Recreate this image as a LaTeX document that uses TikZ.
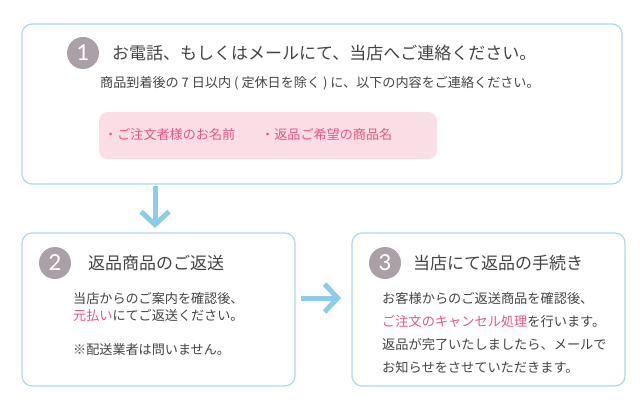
\documentclass[tikz,border=0pt]{standalone}
\usepackage{fontspec}
\setmainfont{Noto Sans CJK JP}
\newfontfamily\numfont{Lato}
\usetikzlibrary{arrows.meta}
\definecolor{boxblue}{RGB}{172,216,236}
\definecolor{arrowblue}{RGB}{140,204,232}
\definecolor{circgray}{RGB}{172,160,168}
\definecolor{pinkfill}{RGB}{250,222,230}
\definecolor{pinktext}{RGB}{228,88,130}
\definecolor{txtgray}{RGB}{68,68,68}
\begin{document}
\begin{tikzpicture}[x=1pt,y=-1pt,
  stepframe/.style={draw=boxblue,line width=1.2pt,rounded corners=10pt,fill=white},
  numcirc/.style={circle,fill=circgray,minimum size=32pt,inner sep=0pt,text=white,font=\numfont\fontsize{22}{22}\selectfont},
  titletxt/.style={anchor=west,inner sep=0pt,text=txtgray,font=\fontsize{17}{19}\selectfont},
  bodytxt/.style={anchor=north west,inner sep=0pt,text=txtgray,align=left},
  flowarrow/.style={draw=arrowblue,line width=5pt,-{Straight Barb[length=13pt,width=28pt]}}
]
\useasboundingbox (0,0) rectangle (640,406);
% boxes
\path[stepframe] (22,24) rectangle (622,184);
\path[stepframe] (22,233) rectangle (295,386);
\path[stepframe] (352,233) rectangle (625,386);
\coordinate (b1) at (155,186);
\coordinate (b2) at (155,228);
\coordinate (r1) at (301,298);
\coordinate (r2) at (341,298);
% step 1
\node[numcirc] (c1) at (83,53) {1};
\node[titletxt] (t1) at (112,53) {お電話、もしくはメールにて、当店へご連絡ください。};
\node[anchor=west,inner sep=0pt,text=txtgray,font=\fontsize{13.1}{15}\selectfont] (s1) at (100,83) {商品到着後の 7 日以内 ( 定休日を除く ) に、以下の内容をご連絡ください。};
\path[fill=pinkfill,rounded corners=9pt] (99,112) rectangle (437,159);
\node[anchor=west,inner sep=0pt,text=pinktext,font=\fontsize{13.1}{15}\selectfont] (p1) at (104,135) {・ご注文者様のお名前};
\node[anchor=west,inner sep=0pt,text=pinktext,font=\fontsize{13.1}{15}\selectfont] (p2) at (261,135) {・返品ご希望の商品名};
% step 2
\node[numcirc] (c2) at (55,263) {2};
\node[titletxt] (t2) at (88,263) {返品商品のご返送};
\node[bodytxt,font=\fontsize{13.1}{17}\selectfont] (d2) at (73,292.5) {当店からのご案内を確認後、\\\textcolor{pinktext}{元払い}にてご返送ください。\\[17pt]※配送業者は問いません。};
% step 3
\node[numcirc] (c3) at (385,263) {3};
\node[titletxt] (t3) at (413,263) {当店にて返品の手続き};
\node[bodytxt,font=\fontsize{13.2}{22.8}\selectfont] (d3) at (382,292.5) {お客様からのご返送商品を確認後、\\\textcolor{pinktext}{ご注文のキャンセル処理}を行います。\\返品が完了いたしましたら、メールで\\お知らせをさせていただきます。};
% arrows
\draw[flowarrow] (b1) -- (b2);
\draw[flowarrow] (r1) -- (r2);
\end{tikzpicture}
\end{document}
